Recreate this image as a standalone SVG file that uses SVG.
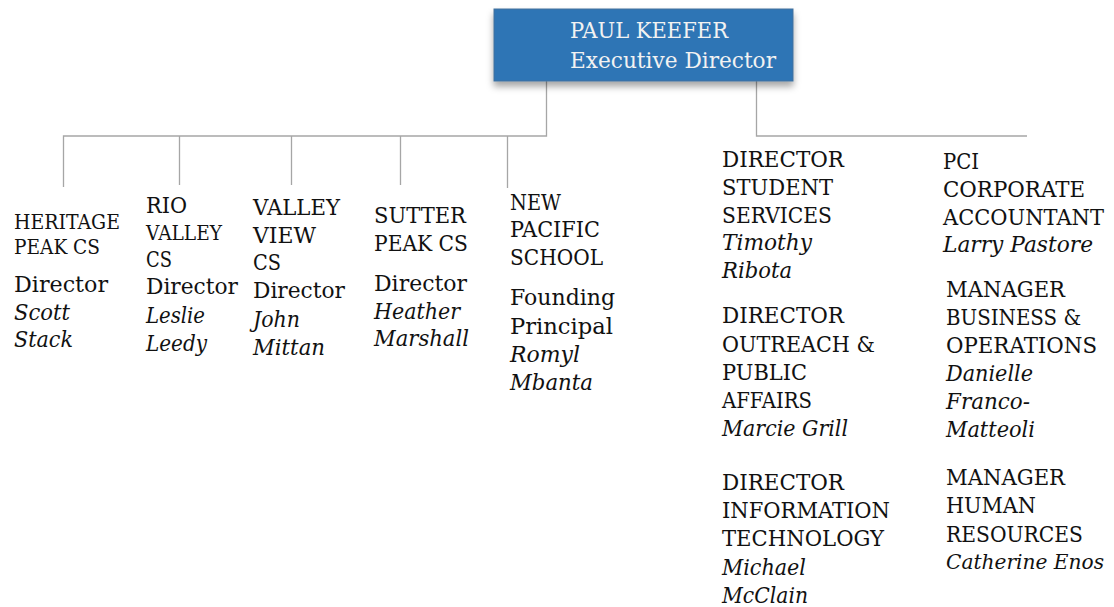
<svg xmlns="http://www.w3.org/2000/svg" width="1114" height="607" viewBox="0 0 1114 607">
<style>
text{font-family:"DejaVu Serif","Liberation Serif",serif;font-size:22px;fill:#111}
.n{font-style:italic}
.s{font-size:19.5px}
.m{font-size:20.5px}
.w{fill:#F2F2F2;font-size:23px}
.c{fill:none;stroke:#A6A6A6;stroke-width:1.3}
</style>
<defs>
<filter id="sh" x="-10%" y="-20%" width="120%" height="160%">
<feDropShadow dx="0" dy="5" stdDeviation="3.5" flood-color="#000" flood-opacity="0.35"/>
</filter>
</defs>
<g id="connectors">
<path class="c" d="M546.5 81V136H63.5V187M179.5 136V185M291.5 136V185M400.5 136V185M507.5 136V188"/>
<path class="c" d="M756.5 81V136H1027"/>
</g>
<g id="exec">
<rect x="494" y="9" width="299" height="72" fill="#2E74B5" stroke="#41719C" stroke-width="1" filter="url(#sh)"/>
<text class="w" x="570" y="38" textLength="158" lengthAdjust="spacingAndGlyphs">PAUL KEEFER</text>
<text class="w" x="570" y="68" textLength="206" lengthAdjust="spacingAndGlyphs">Executive Director</text>
</g>
<g id="heritage">
<text class="s" x="14" y="229" textLength="106" lengthAdjust="spacingAndGlyphs">HERITAGE</text>
<text class="s" x="14" y="254" textLength="86" lengthAdjust="spacingAndGlyphs">PEAK CS</text>
<text x="14" y="292" textLength="94" lengthAdjust="spacingAndGlyphs">Director</text>
<text class="n" x="14" y="320" textLength="56" lengthAdjust="spacingAndGlyphs">Scott</text>
<text class="n" x="14" y="347" textLength="59" lengthAdjust="spacingAndGlyphs">Stack</text>
</g>
<g id="rio">
<text x="146" y="213" textLength="41" lengthAdjust="spacingAndGlyphs">RIO</text>
<text class="m" x="146" y="240" textLength="76" lengthAdjust="spacingAndGlyphs">VALLEY</text>
<text x="146" y="267" textLength="26" lengthAdjust="spacingAndGlyphs">CS</text>
<text x="146" y="294" textLength="92" lengthAdjust="spacingAndGlyphs">Director</text>
<text class="n" x="146" y="323" textLength="59" lengthAdjust="spacingAndGlyphs">Leslie</text>
<text class="n" x="146" y="351" textLength="61" lengthAdjust="spacingAndGlyphs">Leedy</text>
</g>
<g id="valleyview">
<text x="253" y="215" textLength="87" lengthAdjust="spacingAndGlyphs">VALLEY</text>
<text x="253" y="243" textLength="63" lengthAdjust="spacingAndGlyphs">VIEW</text>
<text x="253" y="270" textLength="28" lengthAdjust="spacingAndGlyphs">CS</text>
<text x="253" y="298" textLength="92" lengthAdjust="spacingAndGlyphs">Director</text>
<text class="n" x="253" y="327" textLength="47" lengthAdjust="spacingAndGlyphs">John</text>
<text class="n" x="253" y="355" textLength="72" lengthAdjust="spacingAndGlyphs">Mittan</text>
</g>
<g id="sutter">
<text x="374" y="223" textLength="92" lengthAdjust="spacingAndGlyphs">SUTTER</text>
<text x="374" y="251" textLength="94" lengthAdjust="spacingAndGlyphs">PEAK CS</text>
<text x="374" y="291" textLength="93" lengthAdjust="spacingAndGlyphs">Director</text>
<text class="n" x="374" y="319" textLength="86" lengthAdjust="spacingAndGlyphs">Heather</text>
<text class="n" x="374" y="346" textLength="95" lengthAdjust="spacingAndGlyphs">Marshall</text>
</g>
<g id="newpacific">
<text x="510" y="210" textLength="51" lengthAdjust="spacingAndGlyphs">NEW</text>
<text x="510" y="237" textLength="90" lengthAdjust="spacingAndGlyphs">PACIFIC</text>
<text x="510" y="265" textLength="93" lengthAdjust="spacingAndGlyphs">SCHOOL</text>
<text x="510" y="305" textLength="105" lengthAdjust="spacingAndGlyphs">Founding</text>
<text x="510" y="334" textLength="103" lengthAdjust="spacingAndGlyphs">Principal</text>
<text class="n" x="510" y="362" textLength="70" lengthAdjust="spacingAndGlyphs">Romyl</text>
<text class="n" x="510" y="390" textLength="83" lengthAdjust="spacingAndGlyphs">Mbanta</text>
</g>
<g id="studentservices">
<text x="722" y="167" textLength="122" lengthAdjust="spacingAndGlyphs">DIRECTOR</text>
<text x="722" y="195" textLength="111" lengthAdjust="spacingAndGlyphs">STUDENT</text>
<text x="722" y="223" textLength="110" lengthAdjust="spacingAndGlyphs">SERVICES</text>
<text class="n" x="722" y="250" textLength="90" lengthAdjust="spacingAndGlyphs">Timothy</text>
<text class="n" x="722" y="278" textLength="70" lengthAdjust="spacingAndGlyphs">Ribota</text>
</g>
<g id="outreach">
<text x="722" y="323" textLength="122" lengthAdjust="spacingAndGlyphs">DIRECTOR</text>
<text x="722" y="352" textLength="153" lengthAdjust="spacingAndGlyphs">OUTREACH &amp;</text>
<text x="722" y="380" textLength="85" lengthAdjust="spacingAndGlyphs">PUBLIC</text>
<text x="722" y="408" textLength="90" lengthAdjust="spacingAndGlyphs">AFFAIRS</text>
<text class="n" x="722" y="436" textLength="126" lengthAdjust="spacingAndGlyphs">Marcie Grill</text>
</g>
<g id="it">
<text x="722" y="490" textLength="122" lengthAdjust="spacingAndGlyphs">DIRECTOR</text>
<text x="722" y="518" textLength="168" lengthAdjust="spacingAndGlyphs">INFORMATION</text>
<text x="722" y="546" textLength="162" lengthAdjust="spacingAndGlyphs">TECHNOLOGY</text>
<text class="n" x="722" y="575" textLength="84" lengthAdjust="spacingAndGlyphs">Michael</text>
<text class="n" x="722" y="603" textLength="86" lengthAdjust="spacingAndGlyphs">McClain</text>
</g>
<g id="accountant">
<text x="943" y="169" textLength="36" lengthAdjust="spacingAndGlyphs">PCI</text>
<text x="943" y="197" textLength="142" lengthAdjust="spacingAndGlyphs">CORPORATE</text>
<text x="943" y="225" textLength="161" lengthAdjust="spacingAndGlyphs">ACCOUNTANT</text>
<text class="n" x="943" y="252" textLength="150" lengthAdjust="spacingAndGlyphs">Larry Pastore</text>
</g>
<g id="business">
<text x="946" y="297" textLength="119" lengthAdjust="spacingAndGlyphs">MANAGER</text>
<text x="946" y="325" textLength="135" lengthAdjust="spacingAndGlyphs">BUSINESS &amp;</text>
<text x="946" y="353" textLength="151" lengthAdjust="spacingAndGlyphs">OPERATIONS</text>
<text class="n" x="946" y="381" textLength="87" lengthAdjust="spacingAndGlyphs">Danielle</text>
<text class="n" x="946" y="409" textLength="84" lengthAdjust="spacingAndGlyphs">Franco-</text>
<text class="n" x="946" y="437" textLength="89" lengthAdjust="spacingAndGlyphs">Matteoli</text>
</g>
<g id="hr">
<text x="946" y="485" textLength="119" lengthAdjust="spacingAndGlyphs">MANAGER</text>
<text x="946" y="513" textLength="90" lengthAdjust="spacingAndGlyphs">HUMAN</text>
<text x="946" y="542" textLength="137" lengthAdjust="spacingAndGlyphs">RESOURCES</text>
<text class="n" x="946" y="569" style="font-size:19.5px" textLength="158" lengthAdjust="spacingAndGlyphs">Catherine Enos</text>
</g>
</svg>
